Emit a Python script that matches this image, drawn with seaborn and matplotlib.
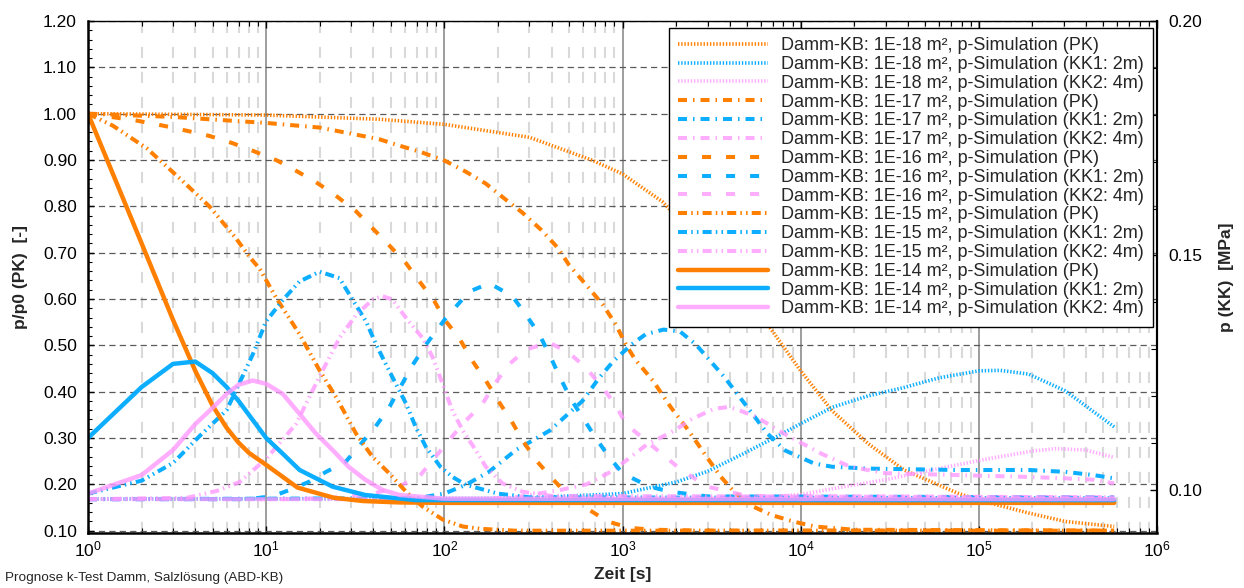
import numpy as np
import matplotlib
matplotlib.use("Agg")
import matplotlib.pyplot as plt
import seaborn as sns
from matplotlib.ticker import LogLocator, MultipleLocator, FormatStrFormatter, NullFormatter

sns.set_theme(style="white")
plt.rcParams['font.family'] = ['Liberation Sans', 'DejaVu Sans']
plt.rcParams['mathtext.fontset'] = 'custom'
plt.rcParams['mathtext.rm'] = 'Liberation Sans'
plt.rcParams['lines.scale_dashes'] = False

# ---- simulated pressures (time in s, relative pressure p/p0) ----
permeabilities = ["1E-18", "1E-17", "1E-16", "1E-15", "1E-14"]
positions = ["PK", "KK1: 2m", "KK2: 4m"]

t_18_pk = [1, 10, 43, 100, 300, 680, 1000, 1675, 2500, 4000, 6530, 10000, 15000, 23900, 38000, 76000, 100000, 191000, 305000, 575000]
p_18_pk = [1.0, 0.997, 0.988, 0.977, 0.949, 0.899, 0.87, 0.81, 0.74, 0.64, 0.545, 0.445, 0.359, 0.288, 0.231, 0.181, 0.166, 0.138, 0.12, 0.109]
t_18_kk1 = [1, 300, 500, 1000, 2000, 3000, 4700, 7500, 10000, 15000, 23900, 38000, 60000, 100000, 132000, 190000, 305000, 575000]
p_18_kk1 = [0.168, 0.17, 0.175, 0.18, 0.205, 0.228, 0.265, 0.305, 0.331, 0.366, 0.391, 0.409, 0.43, 0.445, 0.446, 0.438, 0.402, 0.324]
t_18_kk2 = [1, 3000, 5000, 10000, 18800, 30000, 50000, 105000, 200000, 270000, 400000, 575000]
p_18_kk2 = [0.168, 0.168, 0.17, 0.178, 0.197, 0.21, 0.228, 0.253, 0.272, 0.277, 0.274, 0.258]

t_17_pk = [1, 3, 10, 20, 43, 56, 74, 100, 133, 171, 217, 275, 350, 432, 502, 627, 778, 920, 1050, 1175, 1480, 1870, 2350, 2970, 3570, 4300, 5420, 6840, 9030, 12000, 20000, 575000]
p_17_pk = [1.0, 0.993, 0.98, 0.97, 0.945, 0.931, 0.917, 0.899, 0.874, 0.849, 0.817, 0.786, 0.749, 0.711, 0.673, 0.63, 0.587, 0.544, 0.50, 0.47, 0.424, 0.366, 0.316, 0.259, 0.216, 0.181, 0.152, 0.134, 0.12, 0.109, 0.102, 0.10]
t_17_kk1 = [1, 70, 100, 132, 178, 252, 390, 596, 740, 890, 1125, 1350, 1700, 2100, 2580, 3740, 4700, 6530, 8200, 11900, 15000, 23900, 76000, 191000, 305000, 440000, 575000]
p_17_kk1 = [0.168, 0.17, 0.18, 0.199, 0.227, 0.274, 0.316, 0.38, 0.43, 0.466, 0.502, 0.524, 0.534, 0.53, 0.502, 0.431, 0.381, 0.309, 0.273, 0.245, 0.238, 0.234, 0.231, 0.231, 0.227, 0.22, 0.213]
t_17_kk2 = [1, 150, 250, 315, 450, 628, 880, 1360, 1950, 2450, 3260, 3930, 4300, 5690, 7500, 9900, 13100, 18960, 30100, 76000, 120000, 190000, 305000, 440000, 575000]
p_17_kk2 = [0.168, 0.168, 0.172, 0.178, 0.188, 0.2, 0.229, 0.285, 0.316, 0.341, 0.363, 0.367, 0.363, 0.345, 0.316, 0.291, 0.266, 0.238, 0.224, 0.22, 0.218, 0.216, 0.213, 0.21, 0.202]

t_16_pk = [1, 1.88, 2.65, 3.6, 4.8, 6.4, 8.4, 11.5, 15, 19.6, 25, 32, 39.7, 49, 61, 72.5, 88, 102, 121, 144, 171, 200, 237, 275, 327, 396, 481, 650, 824, 1100, 1500, 3000, 575000]
p_16_pk = [1.0, 0.985, 0.974, 0.963, 0.952, 0.937, 0.92, 0.899, 0.875, 0.849, 0.821, 0.789, 0.752, 0.716, 0.677, 0.638, 0.595, 0.552, 0.516, 0.466, 0.424, 0.381, 0.338, 0.295, 0.252, 0.216, 0.181, 0.145, 0.12, 0.106, 0.102, 0.10, 0.10]
t_16_kk1 = [1, 8, 11, 14, 17.5, 21.7, 28, 41, 49, 66, 79, 102, 138, 179, 241, 287, 341, 389, 442, 513, 596, 708, 841, 1000, 1415, 1870, 3000, 575000]
p_16_kk1 = [0.168, 0.168, 0.175, 0.19, 0.206, 0.227, 0.249, 0.324, 0.366, 0.456, 0.502, 0.559, 0.616, 0.634, 0.606, 0.566, 0.524, 0.48, 0.434, 0.384, 0.345, 0.30, 0.259, 0.224, 0.195, 0.184, 0.174, 0.172]
t_16_kk2 = [1, 15, 25, 40, 55, 72, 94, 127, 164, 191, 231, 287, 388, 500, 622, 773, 918, 1046, 1415, 2140, 3000, 5000, 575000]
p_16_kk2 = [0.168, 0.168, 0.172, 0.18, 0.195, 0.216, 0.27, 0.331, 0.374, 0.416, 0.459, 0.491, 0.506, 0.484, 0.452, 0.409, 0.37, 0.33, 0.288, 0.231, 0.195, 0.175, 0.172]

t_15_pk = [1, 1.38, 2.14, 3.28, 4.8, 6.8, 8.1, 9.2, 11.4, 15.4, 20, 24.7, 32, 39.6, 49, 61, 75.5, 98, 127, 160, 250, 575000]
p_15_pk = [1.0, 0.974, 0.925, 0.86, 0.80, 0.73, 0.69, 0.665, 0.602, 0.524, 0.445, 0.388, 0.309, 0.259, 0.224, 0.184, 0.152, 0.124, 0.109, 0.104, 0.10, 0.10]
t_15_kk1 = [1, 2, 3, 4.25, 6, 7.1, 8.4, 10, 12.4, 15.4, 20, 25.8, 30.6, 36.3, 41.4, 47, 53.6, 61, 69, 79, 95, 111, 132, 200, 300, 575000]
p_15_kk1 = [0.18, 0.208, 0.246, 0.305, 0.36, 0.42, 0.48, 0.552, 0.598, 0.638, 0.659, 0.645, 0.598, 0.552, 0.502, 0.459, 0.416, 0.374, 0.324, 0.28, 0.238, 0.216, 0.199, 0.18, 0.172, 0.17]
t_15_kk2 = [1, 3.6, 5.3, 7.1, 10, 14.7, 20, 25.8, 32, 39.7, 45, 51, 63, 75.5, 86, 98, 111, 127, 150, 171, 212, 275, 400, 575000]
p_15_kk2 = [0.168, 0.171, 0.186, 0.205, 0.255, 0.33, 0.434, 0.516, 0.566, 0.599, 0.606, 0.599, 0.552, 0.516, 0.474, 0.416, 0.359, 0.316, 0.274, 0.238, 0.202, 0.184, 0.175, 0.172]

t_14_pk = [1, 2, 3, 4, 5, 6, 7, 8, 10, 15, 24, 35, 56, 100, 575000]
p_14_pk = [1.0, 0.72, 0.555, 0.445, 0.37, 0.322, 0.29, 0.268, 0.242, 0.193, 0.171, 0.164, 0.161, 0.16, 0.16]
t_14_kk1 = [1, 2, 3, 4, 5, 6, 7, 8, 10, 12.4, 15.4, 23.6, 36, 69, 100, 575000]
p_14_kk1 = [0.30, 0.41, 0.46, 0.465, 0.44, 0.41, 0.38, 0.35, 0.30, 0.266, 0.231, 0.195, 0.177, 0.166, 0.166, 0.166]
t_14_kk2 = [1, 2, 3, 4, 5, 6, 7, 8.4, 10, 12.4, 15.4, 19, 23.6, 29, 36, 45, 56, 100, 575000]
p_14_kk2 = [0.18, 0.22, 0.274, 0.33, 0.365, 0.395, 0.415, 0.424, 0.417, 0.395, 0.352, 0.31, 0.274, 0.238, 0.21, 0.188, 0.177, 0.169, 0.168]

series = {
    ("1E-18", "PK"): (t_18_pk, p_18_pk), ("1E-18", "KK1: 2m"): (t_18_kk1, p_18_kk1), ("1E-18", "KK2: 4m"): (t_18_kk2, p_18_kk2),
    ("1E-17", "PK"): (t_17_pk, p_17_pk), ("1E-17", "KK1: 2m"): (t_17_kk1, p_17_kk1), ("1E-17", "KK2: 4m"): (t_17_kk2, p_17_kk2),
    ("1E-16", "PK"): (t_16_pk, p_16_pk), ("1E-16", "KK1: 2m"): (t_16_kk1, p_16_kk1), ("1E-16", "KK2: 4m"): (t_16_kk2, p_16_kk2),
    ("1E-15", "PK"): (t_15_pk, p_15_pk), ("1E-15", "KK1: 2m"): (t_15_kk1, p_15_kk1), ("1E-15", "KK2: 4m"): (t_15_kk2, p_15_kk2),
    ("1E-14", "PK"): (t_14_pk, p_14_pk), ("1E-14", "KK1: 2m"): (t_14_kk1, p_14_kk1), ("1E-14", "KK2: 4m"): (t_14_kk2, p_14_kk2),
}

colors = {"PK": "#FF8000", "KK1: 2m": "#00AAFF", "KK2: 4m": "#FF99FF"}
alphas = {"PK": 1.0, "KK1: 2m": 0.95, "KK2: 4m": 0.8}
line_styles = {
    "1E-18": dict(lw=2.6, ls=(0, (1.0, 1.3))),
    "1E-17": dict(lw=2.9, ls=(0, (6.5, 4.3, 1.1, 4.3))),
    "1E-16": dict(lw=2.9, ls=(0, (6.5, 10.8))),
    "1E-15": dict(lw=2.9, ls=(0, (6.5, 3.0, 1.1, 3.0, 1.1, 3.0))),
    "1E-14": dict(lw=3.2, ls="-"),
}

fig = plt.figure(figsize=(12.44, 5.88), dpi=100)
ax = fig.add_axes([88 / 1244, 55 / 588, 1069 / 1244, 512 / 588])

handles = []
for k in permeabilities:
    for pos in positions:
        t, p = series[(k, pos)]
        sns.lineplot(x=t, y=p, ax=ax, color=colors[pos], alpha=alphas[pos],
                     linewidth=line_styles[k]["lw"], linestyle=line_styles[k]["ls"],
                     estimator=None, sort=False, legend=False)
        line = ax.lines[-1]
        line.set_label(f"Damm-KB: {k} m², p-Simulation ({pos})")
        handles.append(line)

ax.set_xscale("log")
ax.set_xlim(1, 1e6)
ax.set_ylim(0.095, 1.2)
ax.set_yticks(np.round(np.arange(0.1, 1.21, 0.1), 2))
ax.yaxis.set_major_formatter(FormatStrFormatter("%.2f"))
ax.yaxis.set_minor_locator(MultipleLocator(0.02))
ax.xaxis.set_major_locator(LogLocator(base=10, numticks=10))
ax.xaxis.set_minor_locator(LogLocator(base=10, subs=np.arange(2, 10), numticks=20))
ax.xaxis.set_minor_formatter(NullFormatter())

ax.grid(True, which="major", axis="x", color="#8c8c8c", linestyle="-", linewidth=1.2)
ax.grid(True, which="minor", axis="x", color="#d9d9d9", linestyle=(0, (8, 10)), linewidth=1.5)
ax.grid(True, which="major", axis="y", color="#5a5a5a", linestyle=(0, (4.5, 3)), linewidth=0.9)
ax.set_axisbelow(True)

tick_fs = 12.5
ax.tick_params(axis="both", which="both", direction="in", colors="black", labelsize=tick_fs)
ax.tick_params(axis="x", which="both", top=True, bottom=True, pad=5)
ax.tick_params(axis="x", which="major", length=5, width=1)
ax.tick_params(axis="x", which="minor", length=3.5, width=0.8)
ax.tick_params(axis="y", which="major", left=True, right=False, length=4, width=1, pad=8)
ax.tick_params(axis="y", which="minor", left=True, right=False, length=3, width=0.8)
for side, lw in (("left", 1.8), ("bottom", 1.8), ("top", 1.0), ("right", 1.5)):
    ax.spines[side].set_color("black")
    ax.spines[side].set_linewidth(lw)

ax.set_xlabel("Zeit [s]", fontsize=12.5, fontweight="bold", labelpad=5)
ax.set_ylabel("p/p0 (PK)  [-]", fontsize=12.5, fontweight="bold", labelpad=11)

ax2 = ax.twinx()
ax2.set_ylim(0.0908, 0.20)
ax2.set_yticks([0.10, 0.15, 0.20])
ax2.yaxis.set_major_formatter(FormatStrFormatter("%.2f"))
ax2.yaxis.set_minor_locator(MultipleLocator(0.01))
ax2.grid(False)
ax2.tick_params(axis="y", which="both", direction="in", colors="black", labelsize=tick_fs, pad=8)
ax2.tick_params(axis="y", which="major", length=5, width=1)
ax2.tick_params(axis="y", which="minor", length=4, width=0.8)
for side in ("left", "bottom", "top"):
    ax2.spines[side].set_visible(False)
ax2.spines["right"].set_color("black")
ax2.spines["right"].set_linewidth(1.5)
ax2.set_ylabel("p (KK)  [MPa]", fontsize=12.5, fontweight="bold", labelpad=12)

leg = ax2.legend(handles=handles, loc="upper right", bbox_to_anchor=(0.996, 0.986),
                 borderaxespad=0, fontsize=13, handlelength=5.0, handletextpad=0.72,
                 labelspacing=0.1, borderpad=0.5, frameon=True, fancybox=False,
                 framealpha=1, edgecolor="black", facecolor="white")
leg.get_frame().set_linewidth(1.0)

fig.text(0.004, 0.006, "Prognose k-Test Damm, Salzlösung (ABD-KB)", fontsize=9.7, ha="left", va="bottom")

fig.savefig("out.png", dpi=100)
